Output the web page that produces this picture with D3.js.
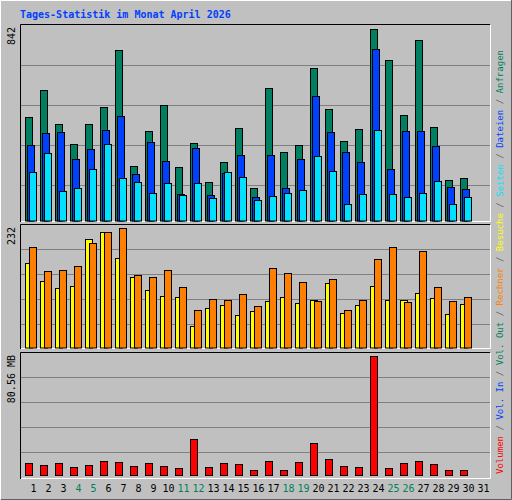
<!DOCTYPE html>
<html>
<head>
<meta charset="utf-8">
<script src="https://cdn.jsdelivr.net/npm/d3@7"></script>
<style>
  body { margin: 0; background: #fff; }
  text { font-family: "DejaVu Sans Mono", monospace; }
</style>
</head>
<body>
<div id="body"></div>
<script>
// values, one per day
const days = d3.range(1, 32);
const weekend = [4, 5, 11, 12, 18, 19, 25, 26];
const anfragen = [455,573,424,336,424,498,748,240,393,507,235,341,170,257,406,143,582,301,332,670,490,349,402,841,705,463,792,411,178,187];
const dateien  = [332,385,389,270,314,398,459,205,345,262,117,319,113,209,288,104,288,143,270,547,389,301,257,753,227,393,393,328,148,139];
const seiten   = [213,297,130,143,227,336,187,170,121,165,113,165,100,213,192,91,108,121,135,284,218,73,117,398,117,104,121,174,73,104];
const besuche  = [164,130,116,120,211,224,174,137,112,101,99,43,77,83,64,72,91,99,87,93,126,68,83,120,93,93,106,97,66,85];
const rechner  = [195,149,151,159,203,224,232,141,137,151,118,73,95,93,104,81,155,145,128,91,133,73,93,172,195,89,188,118,91,99];
const volumen  = [8.3,7.0,8.3,5.6,7.0,9.7,9.0,6.3,8.3,6.3,5.0,24.5,5.6,8.3,7.7,3.6,9.7,3.6,9.0,21.8,11.0,6.3,5.6,80.56,5.0,8.3,9.7,7.7,3.6,3.6];
const gridTop = [158, 333, 509, 684];
const gridMid = [46, 95, 143, 191];
const gridBot = [15.8, 32.7, 49.6, 66.4];
const legend = [
  ['Volumen', '#ff0000'], ['Vol. In', '#0040ff'], ['Vol. Out', '#00805c'],
  ['Rechner', '#ff8000'], ['Besuche', '#ffff00'], ['Seiten', '#00e0ff'],
  ['Dateien', '#0040ff'], ['Anfragen', '#00805c']
];

const svg = d3.select('#body').append('svg')
  .attr('width', 512).attr('height', 500);

svg.append('rect').attr('width', 512).attr('height', 500).attr('fill', '#c0c0c0');
svg.append('path').attr('d', 'M0.5,499.5V0.5H511.5').attr('stroke', '#fff').attr('fill', 'none');
svg.append('path').attr('d', 'M1,499.5H511.5V0').attr('stroke', '#606060').attr('fill', 'none');

svg.append('text').attr('x', 20).attr('y', 18)
  .attr('font-size', 10).attr('font-weight', 'bold').attr('fill', '#0040ff')
  .text('Tages-Statistik im Monat April 2026');

const x = d3.scaleLinear().domain([1, 31]).range([25.5, 475.5]);

function panel(y0, y1, yScale, grid, label) {
  svg.append('g').selectAll('line').data(grid).join('line')
    .attr('x1', 21).attr('x2', 490)
    .attr('y1', d => Math.round(yScale(d)) + 0.5).attr('y2', d => Math.round(yScale(d)) + 0.5)
    .attr('stroke', '#808080');
  svg.append('path').attr('d', `M20.5,${y1}V${y0 + 0.5}H490`).attr('stroke', '#000').attr('fill', 'none');
  svg.append('path').attr('d', `M21,${y1 - 0.5}H490.5V${y0 + 1}`).attr('stroke', '#fff').attr('fill', 'none');
  svg.append('text').attr('transform', `translate(15,${y0 + 3}) rotate(-90)`)
    .attr('text-anchor', 'end').attr('font-size', 10).text(label);
}

function bars(data, yScale, off, color) {
  svg.append('g').selectAll('rect').data(data).join('rect')
    .attr('x', (d, i) => x(i + 1) + off)
    .attr('y', d => Math.round(yScale(d)) + 0.5)
    .attr('width', 7)
    .attr('height', d => yScale(0) - Math.round(yScale(d)) - 0.5)
    .attr('fill', color).attr('stroke', '#000');
}

const yTop = d3.scaleLinear().domain([0, 842]).range([221, 29]);
panel(24, 222, yTop, gridTop, '842');
bars(anfragen, yTop, 0, '#008060');
bars(dateien, yTop, 2, '#0040ff');
bars(seiten, yTop, 4, '#00e0ff');

const yMid = d3.scaleLinear().domain([0, 232]).range([348, 228]);
panel(224, 349, yMid, gridMid, '232');
bars(besuche, yMid, 0, '#ffff00');
bars(rechner, yMid, 4, '#ff8000');

const yBot = d3.scaleLinear().domain([0, 80.56]).range([475.5, 356]);
panel(352, 479, yBot, gridBot, '80.56 MB');
bars(volumen, yBot, 0, '#ff0000');

svg.append('g').selectAll('text').data(days).join('text')
  .attr('x', d => x(d) + 8).attr('y', 492)
  .attr('text-anchor', 'middle').attr('font-size', 10)
  .attr('fill', d => weekend.includes(d) ? '#00805c' : '#000')
  .text(d => d);

const leg = svg.append('text')
  .attr('transform', 'translate(503,474) rotate(-90)')
  .attr('font-size', 9).attr('textLength', 424).attr('lengthAdjust', 'spacing');
legend.forEach(([t, c], i) => {
  if (i > 0) leg.append('tspan').attr('fill', '#606060').text(' / ');
  leg.append('tspan').attr('fill', c).text(t);
});
</script>
</body>
</html>
